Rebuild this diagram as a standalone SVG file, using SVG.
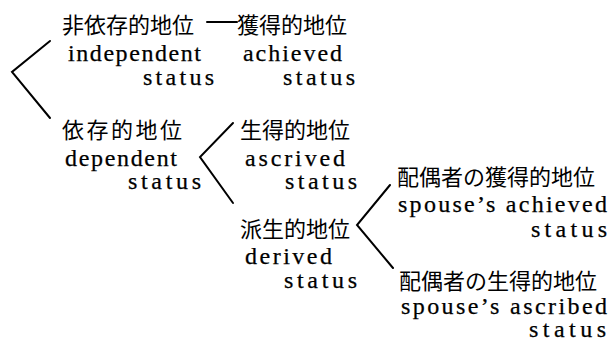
<svg xmlns="http://www.w3.org/2000/svg" width="616" height="342" viewBox="0 0 616 342">
<style>
.j{font-family:"Noto Sans CJK JP","Noto Sans CJK SC",sans-serif;font-size:22px;fill:#000}
.e{font-family:"Liberation Serif",serif;font-size:24px;fill:#000;stroke:#000;stroke-width:0.25}
.c{fill:none;stroke:#000;stroke-width:2;stroke-linecap:round;stroke-linejoin:miter}
</style>
<rect width="616" height="342" fill="#fff"/>
<g id="connectors">
<polyline class="c" points="50,41 12,72 50,118"/>
<line class="c" x1="207" y1="22" x2="237" y2="22"/>
<polyline class="c" points="233,123 200,157 233,203"/>
<polyline class="c" points="390,185 357,225 393,268"/>
</g>
<g id="independent">
<text class="j" x="62" y="33">非依存的地位</text>
<text class="e" x="68" y="61" textLength="133" lengthAdjust="spacing">independent</text>
<text class="e" x="143" y="85" textLength="71" lengthAdjust="spacing">status</text>
</g>
<g id="achieved">
<text class="j" x="237" y="33">獲得的地位</text>
<text class="e" x="243" y="61" textLength="99" lengthAdjust="spacing">achieved</text>
<text class="e" x="283" y="85" textLength="72" lengthAdjust="spacing">status</text>
</g>
<g id="dependent">
<text class="j" x="62" y="138" letter-spacing="2.5">依存的地位</text>
<text class="e" x="65" y="166" textLength="112" lengthAdjust="spacing">dependent</text>
<text class="e" x="128" y="189" textLength="73" lengthAdjust="spacing">status</text>
</g>
<g id="ascribed">
<text class="j" x="240" y="138">生得的地位</text>
<text class="e" x="245" y="166" textLength="100" lengthAdjust="spacing">ascrived</text>
<text class="e" x="285" y="189" textLength="72" lengthAdjust="spacing">status</text>
</g>
<g id="derived">
<text class="j" x="240" y="237">派生的地位</text>
<text class="e" x="245" y="264" textLength="87" lengthAdjust="spacing">derived</text>
<text class="e" x="284" y="288" textLength="73" lengthAdjust="spacing">status</text>
</g>
<g id="spouse-achieved">
<text class="j" x="397" y="185">配偶者の獲得的地位</text>
<text class="e" x="398" y="212" textLength="209" lengthAdjust="spacing">spouse’s achieved</text>
<text class="e" x="531" y="237" textLength="76" lengthAdjust="spacing">status</text>
</g>
<g id="spouse-ascribed">
<text class="j" x="399" y="289">配偶者の生得的地位</text>
<text class="e" x="401" y="314" textLength="206" lengthAdjust="spacing">spouse’s ascribed</text>
<text class="e" x="529" y="337" textLength="77" lengthAdjust="spacing">status</text>
</g>
</svg>
